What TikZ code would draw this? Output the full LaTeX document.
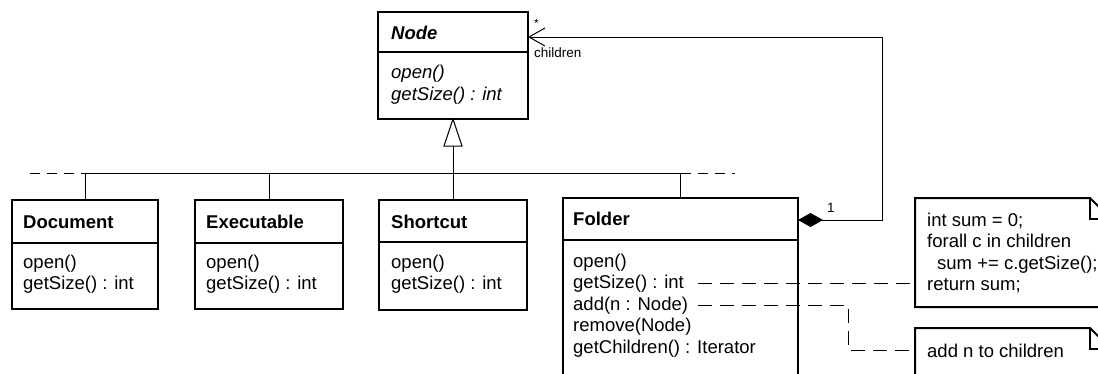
\documentclass[tikz,border=0pt]{standalone}
\usepackage{fontspec}
\setmainfont{Liberation Sans}
\usetikzlibrary{arrows.meta}
\begin{document}
\begin{tikzpicture}[x=1pt,y=-1pt,
  cls/.style={draw,line width=1.1pt,anchor=north west,inner sep=0pt,outer sep=0pt},
  divline/.style={line width=1.1pt},
  txt/.style={inner sep=0pt,anchor=base west,font=\fontsize{18.5pt}{21.5pt}\selectfont},
  lbl/.style={inner sep=0pt,anchor=base west,font=\fontsize{13.5pt}{16pt}\selectfont},
  conn/.style={line width=1pt},
  dashline/.style={line width=1pt,dash pattern=on 14pt off 8pt},
  busdash/.style={line width=1pt,dash pattern=on 10pt off 7pt},
  notearea/.style={anchor=north west,inner sep=0pt,outer sep=0pt},
  notebox/.style={line width=2pt,line join=miter},
]
\useasboundingbox (0,0) rectangle (1098,373);
\clip (0,0) rectangle (1098,373);
\fill[white] (0,0) rectangle (1098,373);

% ---- abstract class Node
\node[cls,minimum width=150pt,minimum height=107pt] (nodecls) at (378,12) {};
\draw[divline] ([yshift=-40pt]nodecls.north west) -- ([yshift=-40pt]nodecls.north east);
\node[txt] (nodeT) at (391,39) {\bfseries\itshape Node};
\node[txt] (nodeM1) at (391,78) {\itshape open()};
\node[txt] (nodeM2) at (391,100) {\itshape getSize() : int};

% ---- Document
\node[cls,minimum width=146pt,minimum height=109pt] (doc) at (12,200) {};
\draw[divline] ([yshift=-43pt]doc.north west) -- ([yshift=-43pt]doc.north east);
\node[txt] (docT) at (23,228) {\bfseries Document};
\node[txt] (docM1) at (23,268) {open()};
\node[txt] (docM2) at (23,289.5) {getSize() : int};

% ---- Executable
\node[cls,minimum width=148pt,minimum height=109pt] (exe) at (195,200) {};
\draw[divline] ([yshift=-43pt]exe.north west) -- ([yshift=-43pt]exe.north east);
\node[txt] (exeT) at (206,228) {\bfseries Executable};
\node[txt] (exeM1) at (206,268) {open()};
\node[txt] (exeM2) at (206,289.5) {getSize() : int};

% ---- Shortcut
\node[cls,minimum width=148pt,minimum height=110pt] (sc) at (379,200) {};
\draw[divline] ([yshift=-42pt]sc.north west) -- ([yshift=-42pt]sc.north east);
\node[txt] (scT) at (391,228) {\bfseries Shortcut};
\node[txt] (scM1) at (391,268) {open()};
\node[txt] (scM2) at (391,289.5) {getSize() : int};

% ---- Folder
\node[cls,minimum width=235pt,minimum height=200pt] (folder) at (563,198) {};
\draw[divline] ([yshift=-42pt]folder.north west) -- ([yshift=-42pt]folder.north east);
\node[txt] (fT) at (573,225.5) {\bfseries Folder};
\node[txt] (fM1) at (573,267) {open()};
\node[txt] (fM2) at (573,288.5) {getSize() : int};
\node[txt] (fM3) at (573,310) {add(n : Node)};
\node[txt] (fM4) at (573,331.5) {remove(Node)};
\node[txt] (fM5) at (573,353) {getChildren() : Iterator};

% ---- generalization
\coordinate (busL) at (30,173);
\coordinate (busR) at (735,173);
\coordinate (triB) at (453,146);
\draw[conn] (nodecls.south) -- ([xshift=-9pt]triB) -- ([xshift=9pt]triB) -- cycle;
\draw[conn] (triB) -- (triB |- busL);
\draw[conn] (doc.north |- busL) -- (folder.north |- busL);
\draw[busdash] (busL) -- (doc.north |- busL);
\draw[busdash] (folder.north |- busR) -- (busR);
\draw[conn] (doc.north) -- (doc.north |- busL);
\draw[conn] (exe.north) -- (exe.north |- busL);
\draw[conn] (sc.north) -- (sc.north |- busL);
\draw[conn] (folder.north) -- (folder.north |- busL);

% ---- composition
\coordinate (c1) at (882,220);
\coordinate (c2) at (882,37);
\draw[conn,{Diamond[length=25pt,width=14pt]}-{Straight Barb[length=16pt,width=18pt]}]
  ([yshift=-22pt]folder.north east) -- (c1) -- (c2) -- ([yshift=-25pt]nodecls.north east);
\node[lbl,font=\fontsize{12pt}{14pt}\selectfont] (mstar) at (534,27) {*};
\node[lbl] (mchild) at (534,57) {children};
\node[lbl] (mone) at (827,212) {1};

% ---- notes
\node[notearea,minimum width=196pt,minimum height=109pt] (note1) at (915,198) {};
\draw[notebox] (note1.south west) -- (note1.north west) -- ([xshift=-21pt]note1.north east)
  -- ([yshift=-21pt]note1.north east) -- (note1.south east) -- cycle;
\draw[notebox] ([xshift=-21pt]note1.north east) -- ++(0,21) -- ++(21,0);
\node[txt] (n1a) at (927,226) {int sum = 0;};
\node[txt] (n1b) at (927,247.5) {forall c in children};
\node[txt] (n1c) at (937,269) {sum += c.getSize();};
\node[txt] (n1d) at (927,290.5) {return sum;};

\node[notearea,minimum width=196pt,minimum height=80pt] (note2) at (915,328) {};
\draw[notebox] (note2.south west) -- (note2.north west) -- ([xshift=-21pt]note2.north east)
  -- ([yshift=-21pt]note2.north east) -- (note2.south east) -- cycle;
\draw[notebox] ([xshift=-21pt]note2.north east) -- ++(0,21) -- ++(21,0);
\node[txt] (n2a) at (927,357) {add n to children};

% ---- note links
\coordinate (bend) at (848,350);
\draw[dashline] ([xshift=14pt]fM2.east) -- (fM2.east -| note1.west);
\draw[dashline] ([xshift=10pt]fM3.east) -- (fM3.east -| bend) -- (bend) -- (bend -| note2.west);
\end{tikzpicture}
\end{document}
